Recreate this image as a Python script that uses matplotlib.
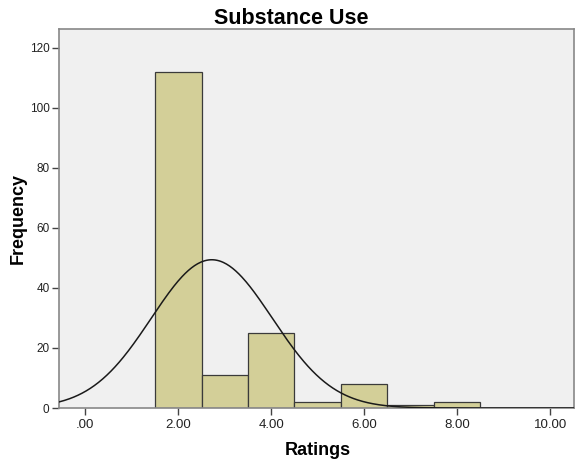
import numpy as np
import matplotlib
matplotlib.use("Agg")
import matplotlib.pyplot as plt

# Data
bin_left = [1.5, 2.5, 3.5, 4.5, 5.5, 6.5, 7.5]
bin_counts = [112, 11, 25, 2, 8, 1, 2]
bin_centers = [2, 3, 4, 5, 6, 7, 8]
xticks = [0, 2, 4, 6, 8, 10]
xtick_labels = [".00", "2.00", "4.00", "6.00", "8.00", "10.00"]
yticks = [0, 20, 40, 60, 80, 100, 120]

plt.rcParams['font.family'] = ['Liberation Sans', 'DejaVu Sans']

W, H = 580, 465
fig = plt.figure(figsize=(5.8, 4.65), dpi=100)
ax = fig.add_axes([59.3/W, (H-408)/H, (574.3-59.3)/W, (408-29)/H])
ax.set_facecolor('#F0F0F0')

ax.bar(bin_left, bin_counts, width=1.0, align='edge', color='#D3CF98',
       edgecolor='#3a3a3a', linewidth=0.9, zorder=2)

# Normal curve from the data
c = np.array(bin_centers, float)
n = np.array(bin_counts, float)
N = n.sum()
mu = (c * n).sum() / N
sd = np.sqrt(((c - mu) ** 2 * n).sum() / (N - 1))
xs = np.linspace(-0.56, 10.52, 500)
ys = N * 1.0 / (sd * np.sqrt(2 * np.pi)) * np.exp(-(xs - mu) ** 2 / (2 * sd ** 2))
ax.plot(xs, ys, color='#1a1a1a', linewidth=1.1, zorder=3)

ax.set_xlim(-0.56, 10.52)
ax.set_ylim(0, 126.3)
ax.set_xticks(xticks)
ax.set_xticklabels(xtick_labels)
ax.set_yticks(yticks)
ax.tick_params(axis='both', direction='out', length=5, width=1, color='#444444',
               labelcolor='#222222', pad=2)
ax.tick_params(axis='x', labelsize=9.5, pad=3)
ax.tick_params(axis='y', labelsize=8.5)
for s in ax.spines.values():
    s.set_color('#888888')
    s.set_linewidth(1.2)

fig.text(0.502, 1 - 18/H, 'Substance Use', fontsize=15.5, fontweight='bold',
         ha='center', va='center')
fig.text(318/W, 1 - 450/H, 'Ratings', fontsize=13, fontweight='bold',
         ha='center', va='center')
fig.text(18/W, 1 - 218/H, 'Frequency', fontsize=13, fontweight='bold',
         ha='center', va='center', rotation=90)

fig.savefig('out.png', dpi=100)
